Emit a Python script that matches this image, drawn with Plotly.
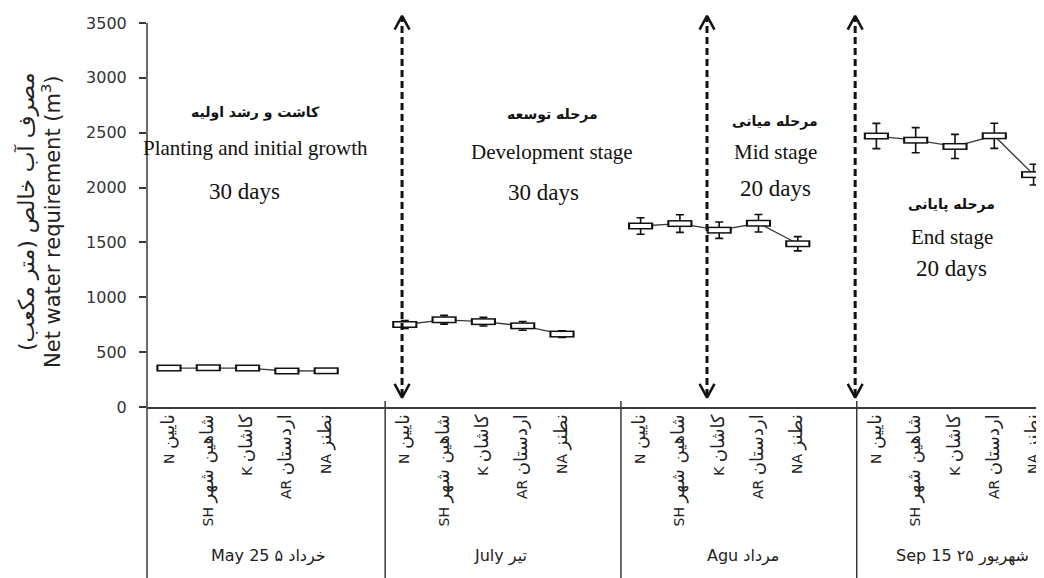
import plotly.graph_objects as go

# ---------------- data ----------------
group_labels = ["May 25 ۵ خرداد", "July تیر", "Agu مرداد", "Sep 15 ۲۵ شهریور"]
station_codes = ["N", "SH", "K", "AR", "NA"]
station_names_fa = ["نایین", "شاهین شهر", "کاشان", "اردستان", "نطنز"]

may_values = [355, 358, 355, 328, 330]
july_values = [752, 795, 778, 740, 665]
aug_values = [1650, 1672, 1612, 1675, 1488]
sep_values = [2470, 2432, 2375, 2472, 2118]

may_err = [18, 18, 18, 18, 18]
july_err = [35, 40, 40, 40, 30]
aug_err = [75, 80, 75, 80, 65]
sep_err = [115, 115, 110, 115, 95]

y_ticks = [0, 500, 1000, 1500, 2000, 2500, 3000, 3500]

stage_fa = ["کاشت و رشد اولیه", "مرحله توسعه", "مرحله میانی", "مرحله پایانی"]
stage_en = ["Planting and initial growth", "Development stage", "Mid stage", "End stage"]
stage_days = ["30 days", "30 days", "20 days", "20 days"]

# annotation / decoration placement (data units)
stage_x = [2.19, 9.75, 15.42, 19.92]
stage_y_fa = [2680, 2662, 2600, 1845]
stage_y_en = [2361, 2325, 2325, 1550]
stage_y_days = [1960, 1951, 1996, 1267]
stage_days_x = [1.93, 9.52, 15.42, 19.92]

arrow_x = [5.93, 13.69, 17.46]
arrow_top = 3565
arrow_bottom = 85

# ---------------- layout constants ----------------
# page body has an 8px margin, so the figure is offset by 8px in the window
OFF = 8
W, H = 1036, 570
ML, MR, MT, MB = 139, 0, 0, 171
PLOT_W = W - ML - MR
PLOT_H = H - MT - MB
X_MIN, X_MAX = -0.56, 22.265
Y_MAX = 3637

def px_to_paper_x(px):
    return (px - OFF - ML) / PLOT_W

def px_to_paper_y(py):
    return (H - MB - (py - OFF)) / PLOT_H

def idx_to_paper_x(i):
    return (i - X_MIN) / (X_MAX - X_MIN)

series_values = [may_values, july_values, aug_values, sep_values]
series_err = [may_err, july_err, aug_err, sep_err]

station_ticktext = [f'{c} <span style="font-size:18px">{n}</span>'
                    for c, n in zip(station_codes, station_names_fa)]

fig = go.Figure()

tickvals, ticktext = [], []
for g, (vals, errs) in enumerate(zip(series_values, series_err)):
    xs = [6 * g + k for k in range(len(vals))]
    tickvals += xs
    ticktext += station_ticktext
    fig.add_trace(go.Scatter(
        x=xs, y=vals, mode="lines",
        line=dict(color="#3a3a3a", width=1.3),
        error_y=dict(type="data", array=errs, color="#111", thickness=1.6, width=4),
        showlegend=False, hoverinfo="skip"))
    fig.add_trace(go.Scatter(
        x=xs, y=vals, mode="markers",
        marker=dict(symbol="line-ew", size=18, color="#111",
                    line=dict(color="#111", width=7)),
        showlegend=False, hoverinfo="skip"))
    fig.add_trace(go.Scatter(
        x=xs, y=vals, mode="markers",
        marker=dict(symbol="line-ew", size=15, color="white",
                    line=dict(color="white", width=4)),
        showlegend=False, hoverinfo="skip"))

# dashed double-headed arrows
dash_x, dash_y, head_x, head_y = [], [], [], []
hw, hh = 0.19, 125
for ax in arrow_x:
    dash_x += [ax, ax, None]
    dash_y += [arrow_bottom + 15, arrow_top - 15, None]
    head_x += [ax - hw, ax, ax + hw, None, ax - hw, ax, ax + hw, None]
    head_y += [arrow_top - hh, arrow_top, arrow_top - hh, None,
               arrow_bottom + hh, arrow_bottom, arrow_bottom + hh, None]
fig.add_trace(go.Scatter(x=dash_x, y=dash_y, mode="lines",
                         line=dict(color="#111", width=3, dash="7px,4px"),
                         showlegend=False, hoverinfo="skip"))
fig.add_trace(go.Scatter(x=head_x, y=head_y, mode="lines",
                         line=dict(color="#111", width=2.5),
                         showlegend=False, hoverinfo="skip"))

annotations = []
serif = "Liberation Serif, Times New Roman, serif"
for i in range(4):
    annotations.append(dict(x=stage_x[i], y=stage_y_fa[i], xref="x", yref="y",
                            text="<b>" + stage_fa[i] + "</b>", showarrow=False,
                            font=dict(family="DejaVu Sans", size=14, color="#111")))
    annotations.append(dict(x=stage_x[i], y=stage_y_en[i], xref="x", yref="y",
                            text=stage_en[i], showarrow=False,
                            font=dict(family=serif, size=21, color="#111")))
    annotations.append(dict(x=stage_days_x[i], y=stage_y_days[i], xref="x", yref="y",
                            text=stage_days[i], showarrow=False,
                            font=dict(family=serif, size=23, color="#111")))

# group labels in the bottom table
group_centers_px = [268, 500, 743, 962]
for lbl, cx in zip(group_labels, group_centers_px):
    annotations.append(dict(x=px_to_paper_x(cx), y=px_to_paper_y(556),
                            xref="paper", yref="paper", xanchor="center", yanchor="middle",
                            text=lbl, showarrow=False,
                            font=dict(family="DejaVu Sans", size=16, color="#222")))

# y-axis titles
annotations.append(dict(x=px_to_paper_x(51), y=px_to_paper_y(222), xref="paper", yref="paper",
                        xanchor="center", yanchor="middle",
                        text="Net water requirement (m<sup>3</sup>)", textangle=-90,
                        showarrow=False,
                        font=dict(family="DejaVu Sans", size=21, color="#222")))
annotations.append(dict(x=px_to_paper_x(26), y=px_to_paper_y(212), xref="paper", yref="paper",
                        xanchor="center", yanchor="middle",
                        text="\u200fمصرف آب خالص (متر مکعب)\u200f", textangle=-90,
                        showarrow=False,
                        font=dict(family="DejaVu Sans", size=22, color="#222")))

shapes = []
bottom_paper = -MB / PLOT_H
# y axis line extending down through the table
shapes.append(dict(type="line", xref="paper", yref="paper", x0=0, x1=0,
                   y0=bottom_paper, y1=3500 / Y_MAX,
                   line=dict(color="#3a3a3a", width=1.5)))
for d in [5.5, 11.5, 17.5]:
    px = idx_to_paper_x(d)
    shapes.append(dict(type="line", xref="paper", yref="paper", x0=px, x1=px,
                       y0=bottom_paper, y1=0.015,
                       line=dict(color="#3a3a3a", width=1.5)))

fig.update_layout(
    width=W, height=H,
    margin=dict(l=ML, r=MR, t=MT, b=MB, autoexpand=False),
    paper_bgcolor="white", plot_bgcolor="white",
    annotations=annotations, shapes=shapes,
    xaxis=dict(range=[X_MIN, X_MAX], tickmode="array", tickvals=tickvals, ticktext=ticktext,
               tickangle=-90, showgrid=False, zeroline=False, showline=True,
               linecolor="#3a3a3a", linewidth=1.5, ticks="", automargin=False,
               ticklabeloverflow="allow",
               tickfont=dict(family="DejaVu Sans", size=14, color="#222")),
    yaxis=dict(range=[0, Y_MAX], tickmode="array", tickvals=y_ticks,
               showgrid=False, zeroline=False, showline=False, automargin=False,
               ticks="outside", ticklen=7, tickwidth=1.5, tickcolor="#3a3a3a",
               ticklabelstandoff=9,
               tickfont=dict(family="DejaVu Sans", size=16, color="#333")),
)

fig.write_html("out.html")
